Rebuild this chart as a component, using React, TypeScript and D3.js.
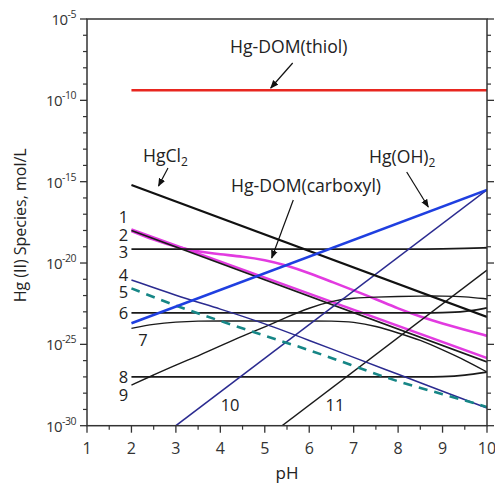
import * as d3 from 'd3';

// pH grid used by the curved species lines
const phGrid = [2, 2.5, 3, 3.5, 4, 4.5, 5, 5.5, 6, 6.5, 7, 7.5, 8, 8.5, 9, 9.5, 10];
const phEnds = [2, 10];

// log10 of concentration (mol/L)
const thiolLog = [-9.38, -9.38];
const hgcl2Log = [-15.2, -23.32];
const hgoh2Log = [-23.7, -15.51];
const carboxylLog = [-18.03, -18.58, -19.01, -19.3, -19.47, -19.6, -19.8, -20.15, -20.62, -21.15, -21.68, -22.22, -22.8, -23.3, -23.72, -24.1, -24.48];
const line1Log = [-18.0, -26.08];
const line2Log = [-17.93, -25.84];
const line3Log = [-19.15, -19.15, -19.15, -19.15, -19.15, -19.15, -19.15, -19.15, -19.15, -19.15, -19.15, -19.15, -19.15, -19.15, -19.13, -19.1, -19.06];
const line4Log = [-21.04, -22.0, -22.82, -23.72, -24.76, -25.8, -26.84, -27.88, -28.91];
const line5Log = [-21.56, -22.64, -23.56, -24.48, -25.34, -26.33, -27.31, -28.05, -28.85];
const line6Log = [-23.07, -23.07, -23.07, -23.07, -23.07, -23.07, -23.07, -23.07, -23.07, -23.07, -23.07, -23.07, -23.07, -23.07, -23.06, -23.01, -22.76];
const line7Log = [-24.02, -23.75, -23.62, -23.56, -23.56, -23.56, -23.56, -23.56, -23.56, -23.56, -23.62, -23.87, -24.3, -24.73, -25.34, -25.96, -26.7];
const line8Log = [-27.0, -27.0, -27.0, -27.0, -27.0, -27.0, -27.0, -27.0, -27.0, -27.0, -27.0, -27.0, -27.0, -27.0, -26.99, -26.91, -26.7];
const line9Log = [-27.5, -26.88, -26.27, -25.71, -25.1, -24.48, -23.93, -23.32, -22.76, -22.33, -22.15, -22.09, -22.06, -22.03, -22.03, -22.06, -22.21];
const phInt = [2, 3, 4, 5, 6, 7, 8, 9, 10];
const line10PH = [3, 10];
const line10Log = [-30.0, -15.5];
const line11PH = [5, 10];
const line11Log = [-30.81, -20.43];

const xTicks = [1, 2, 3, 4, 5, 6, 7, 8, 9, 10];
const yTicks = [-30, -25, -20, -15, -10, -5];

const numberLabels = [
  { t: '1', ph: 1.82, lg: -17.15 },
  { t: '2', ph: 1.82, lg: -18.28 },
  { t: '3', ph: 1.82, lg: -19.32 },
  { t: '4', ph: 1.82, lg: -20.73 },
  { t: '5', ph: 1.82, lg: -21.78 },
  { t: '6', ph: 1.82, lg: -23.07 },
  { t: '7', ph: 2.26, lg: -24.73 },
  { t: '8', ph: 1.82, lg: -27.0 },
  { t: '9', ph: 1.82, lg: -28.11 },
  { t: '10', ph: 4.22, lg: -28.72 },
  { t: '11', ph: 6.58, lg: -28.72 },
];

const W = 495;
const H = 485;
const m = { left: 87, top: 19, right: 487, bottom: 425.7 };
const font = '"Open Sans", "DejaVu Sans", sans-serif';

const x = d3.scaleLinear().domain([1, 10]).range([m.left, m.right]);
const y = d3.scaleLinear().domain([-30, -5]).range([m.bottom, m.top]);

const pts = (ph: number[], lg: number[]) => ph.map((p, i) => [p, lg[i]] as [number, number]);
const straight = d3.line<[number, number]>().x((d) => x(d[0])).y((d) => y(d[1]));
const smooth = d3
  .line<[number, number]>()
  .curve(d3.curveBasis)
  .x((d) => x(d[0]))
  .y((d) => y(d[1]));

const series = [
  { d: pts(phEnds, line2Log), c: '#e23be0', w: 2.4, s: straight },
  { d: pts(phGrid, carboxylLog), c: '#e23be0', w: 2.6, s: smooth },
  { d: pts(phEnds, line1Log), c: '#1a1a1a', w: 1.8, s: straight },
  { d: pts(phGrid, line3Log), c: '#1a1a1a', w: 1.8, s: smooth },
  { d: pts(phGrid, line6Log), c: '#1a1a1a', w: 1.8, s: smooth },
  { d: pts(phGrid, line7Log), c: '#1a1a1a', w: 1.4, s: smooth },
  { d: pts(phGrid, line8Log), c: '#1a1a1a', w: 1.8, s: smooth },
  { d: pts(phGrid, line9Log), c: '#1a1a1a', w: 1.4, s: smooth },
  { d: pts(line11PH, line11Log), c: '#1a1a1a', w: 1.4, s: straight },
  { d: pts(phInt, line4Log), c: '#2b2b90', w: 1.5, s: smooth },
  { d: pts(line10PH, line10Log), c: '#2b2b90', w: 1.5, s: straight },
  { d: pts(phInt, line5Log), c: '#168686', w: 2.6, s: smooth, dash: '9,7' },
  { d: pts(phEnds, hgcl2Log), c: '#111', w: 2.2, s: straight },
  { d: pts(phEnds, hgoh2Log), c: '#1f3fe0', w: 2.6, s: straight },
  { d: pts(phEnds, thiolLog), c: '#e8261f', w: 2.6, s: straight },
];

const arrows = [
  { x1: 292.7, y1: 63, x2: 270.7, y2: 88 },
  { x1: 168, y1: 168, x2: 158.5, y2: 186 },
  { x1: 293.3, y1: 200, x2: 271.7, y2: 258 },
  { x1: 406.7, y1: 172, x2: 428.3, y2: 207 },
];

export default function App() {
  const minor = d3.range(-30, -4, 1).filter((v) => v % 5 !== 0);
  const xMinor = d3.range(1.5, 10, 1);
  return (
    <svg
      width={W}
      height={H}
      style={{ position: 'absolute', left: 0, top: 0, background: '#fff' }}
      fontFamily={font}
    >
      <defs>
        <clipPath id="plot">
          <rect x={m.left} y={m.top} width={m.right - m.left} height={m.bottom - m.top} />
        </clipPath>
        <marker id="ah" viewBox="0 0 10 10" refX="9" refY="5" markerWidth="7" markerHeight="7" orient="auto">
          <path d="M0,1 L10,5 L0,9 z" fill="#111" />
        </marker>
      </defs>

      <g clipPath="url(#plot)">
        {series.map((s, i) => (
          <path
            key={i}
            d={s.s(s.d) || ''}
            fill="none"
            stroke={s.c}
            strokeWidth={s.w}
            strokeDasharray={s.dash}
          />
        ))}
      </g>

      {/* frame */}
      <rect
        x={m.left}
        y={m.top}
        width={m.right - m.left}
        height={m.bottom - m.top}
        fill="none"
        stroke="#333"
        strokeWidth={1.5}
      />

      {/* y ticks, both sides */}
      {yTicks.map((t) => (
        <g key={t}>
          <line x1={m.left - 7} x2={m.left} y1={y(t)} y2={y(t)} stroke="#333" strokeWidth={1.3} />
          <line x1={m.right} x2={m.right + 7} y1={y(t)} y2={y(t)} stroke="#333" strokeWidth={1.3} />
          <text x={76} y={y(t) + 6} textAnchor="end" fontSize={15} fill="#333" letterSpacing={-0.5}>
            10
            <tspan dy={-7} fontSize={10.5}>
              {t}
            </tspan>
          </text>
        </g>
      ))}
      {minor.map((t) => (
        <g key={t}>
          <line x1={m.left - 4} x2={m.left} y1={y(t)} y2={y(t)} stroke="#333" strokeWidth={1.2} />
          <line x1={m.right} x2={m.right + 4} y1={y(t)} y2={y(t)} stroke="#333" strokeWidth={1.2} />
        </g>
      ))}

      {/* x ticks */}
      {xTicks.map((t) => (
        <g key={t}>
          <line x1={x(t)} x2={x(t)} y1={m.bottom} y2={m.bottom + 7} stroke="#333" strokeWidth={1.3} />
          <text x={x(t)} y={454} textAnchor="middle" fontSize={16} fill="#333">
            {t}
          </text>
        </g>
      ))}
      {xMinor.map((t) => (
        <line key={t} x1={x(t)} x2={x(t)} y1={m.bottom} y2={m.bottom + 4} stroke="#333" strokeWidth={1.2} />
      ))}

      <text x={287} y={479} textAnchor="middle" fontSize={17} fill="#222">
        pH
      </text>
      <text
        transform={`translate(26,${(m.top + m.bottom) / 2 + 3}) rotate(-90)`}
        textAnchor="middle"
        fontSize={16}
        fill="#222"
      >
        Hg (II) Species, mol/L
      </text>

      {/* species names */}
      <text x={230} y={53} fontSize={17.6} fill="#222">
        Hg-DOM(thiol)
      </text>
      <text x={143} y={162} fontSize={17.6} fill="#222">
        HgCl
        <tspan dy={4} fontSize={12}>
          2
        </tspan>
      </text>
      <text x={231} y={192} fontSize={17.6} fill="#222">
        Hg-DOM(carboxyl)
      </text>
      <text x={369} y={163} fontSize={17.6} fill="#222">
        Hg(OH)
        <tspan dy={4} fontSize={12}>
          2
        </tspan>
      </text>
      {arrows.map((a, i) => (
        <line key={i} x1={a.x1} y1={a.y1} x2={a.x2} y2={a.y2} stroke="#111" strokeWidth={1.2} markerEnd="url(#ah)" />
      ))}

      {numberLabels.map((l) => (
        <text key={l.t} x={x(l.ph)} y={y(l.lg) + 6} textAnchor="middle" fontSize={16.5} fill="#222">
          {l.t}
        </text>
      ))}
    </svg>
  );
}
